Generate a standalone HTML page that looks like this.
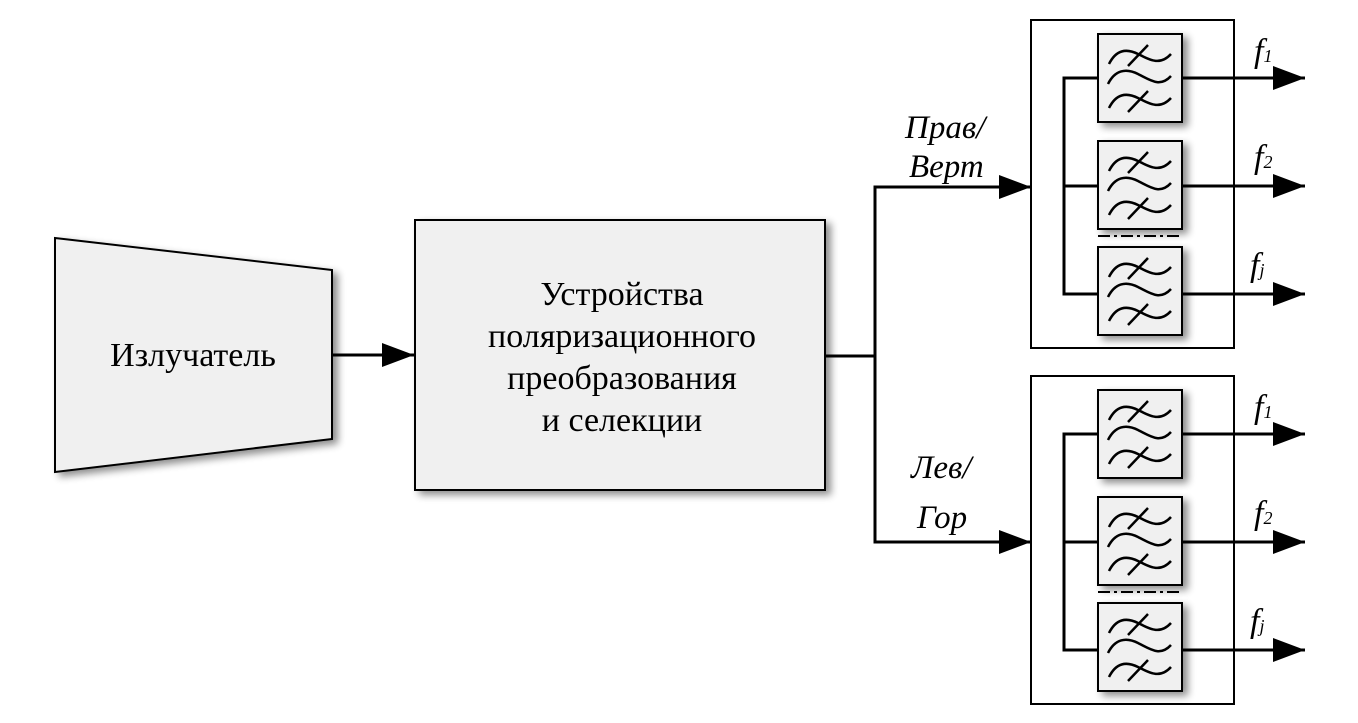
<!DOCTYPE html>
<html><head><meta charset="utf-8"><style>
html,body{margin:0;padding:0;background:#fff}
svg{display:block}
text{font-family:"Liberation Serif",serif;fill:#000}
</style></head><body>
<svg width="1358" height="723" viewBox="0 0 1358 723" xmlns="http://www.w3.org/2000/svg">
<defs>
<filter id="sh" x="-20%" y="-20%" width="150%" height="150%">
<feGaussianBlur in="SourceAlpha" stdDeviation="4"/>
<feOffset dx="5" dy="4" result="b"/>
<feComponentTransfer><feFuncA type="linear" slope="0.45"/></feComponentTransfer>
<feMerge><feMergeNode/><feMergeNode in="SourceGraphic"/></feMerge>
</filter>
<marker id="ar" viewBox="0 0 32 26" refX="32" refY="13" markerWidth="32" markerHeight="26" markerUnits="userSpaceOnUse" orient="auto">
<path d="M0,1 L32,13 L0,25 Z" fill="#000"/>
</marker>
<g id="flt">
<rect x="0" y="0" width="84" height="88" fill="#f0f0f0" stroke="#000" stroke-width="2" filter="url(#sh)"/>
<g fill="none" stroke="#000" stroke-width="2.5">
<path d="M11,30 C18,16 28,14 40,20 S62,32 73,20"/>
<path d="M30,32 L50,11"/>
<path d="M10,50 C17,36 28,34 40,40 S62,54 73,42"/>
<path d="M11,74 C18,60 28,58 40,64 S62,76 73,64"/>
<path d="M30,78 L50,57"/>
</g>
</g>
<g id="grp">
<rect x="1031" y="20" width="203" height="328" fill="#fff" stroke="#000" stroke-width="2"/>
<g stroke="#000" stroke-width="3" fill="none">
<path d="M1098,78 H1064 V294 H1098 M1064,186 H1098"/>
</g>
<use href="#flt" x="1098" y="34"/>
<use href="#flt" x="1098" y="141"/>
<use href="#flt" x="1098" y="247"/>
<path d="M1098,236 H1182" stroke="#000" stroke-width="2" stroke-dasharray="12,4,3,4"/>
<g stroke="#000" stroke-width="3">
<line x1="1182" y1="78" x2="1305" y2="78" marker-end="url(#ar)"/>
<line x1="1182" y1="186" x2="1305" y2="186" marker-end="url(#ar)"/>
<line x1="1182" y1="294" x2="1305" y2="294" marker-end="url(#ar)"/>
</g>
<g font-style="italic" font-size="34">
<text x="1254" y="62">f<tspan font-size="18">1</tspan></text>
<text x="1254" y="168">f<tspan font-size="18">2</tspan></text>
<text x="1250" y="276">f<tspan font-size="18">j</tspan></text>
</g>
</g>
</defs>

<polygon points="55,238 332,270 332,439 55,472" fill="#f0f0f0" stroke="#000" stroke-width="2" filter="url(#sh)"/>
<text x="193" y="366" font-size="34" text-anchor="middle">Излучатель</text>
<line x1="332" y1="355" x2="414" y2="355" stroke="#000" stroke-width="3" marker-end="url(#ar)"/>

<rect x="415" y="220" width="410" height="270" fill="#f0f0f0" stroke="#000" stroke-width="2" filter="url(#sh)"/>
<g font-size="34" text-anchor="middle">
<text x="622" y="305">Устройства</text>
<text x="622" y="347">поляризационного</text>
<text x="622" y="389">преобразования</text>
<text x="622" y="431">и селекции</text>
</g>

<g stroke="#000" stroke-width="3" fill="none">
<path d="M825,356 H875 M1000,187 H875 V542 H1000"/>
</g>
<line x1="980" y1="187" x2="1031" y2="187" stroke="#000" stroke-width="3" marker-end="url(#ar)"/>
<line x1="980" y1="542" x2="1031" y2="542" stroke="#000" stroke-width="3" marker-end="url(#ar)"/>
<g font-size="33" font-style="italic">
<text x="905" y="138">Прав/</text>
<text x="909" y="177">Верт</text>
<text x="911" y="478">Лев/</text>
<text x="917" y="528">Гор</text>
</g>

<use href="#grp"/>
<use href="#grp" y="356"/>
</svg>
</body></html>
